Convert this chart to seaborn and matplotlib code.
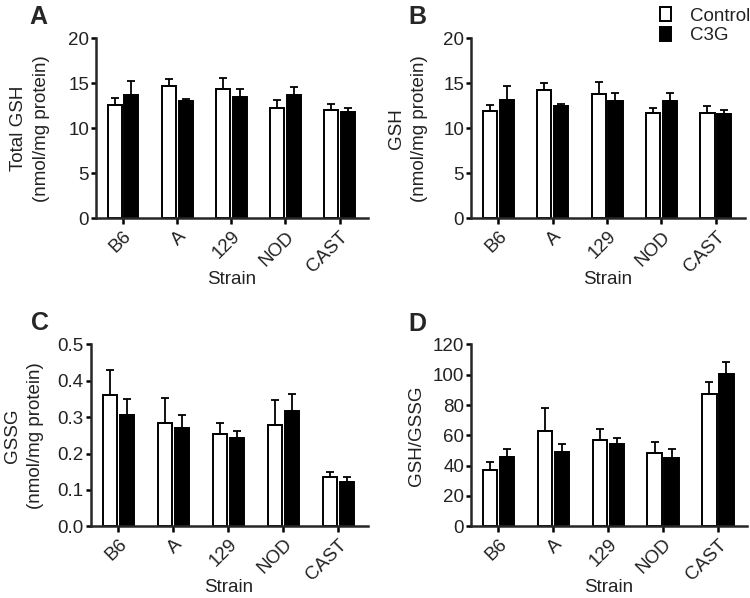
import numpy as np
import pandas as pd
import matplotlib
matplotlib.use('Agg')
import matplotlib.pyplot as plt
import seaborn as sns

sns.set_style('ticks')
plt.rcParams['font.family'] = ['Liberation Sans', 'DejaVu Sans']

strains = ['B6', 'A', '129', 'NOD', 'CAST']
groups = ['Control', 'C3G']

# panel A: total GSH (nmol/mg protein), mean and SEM
total_ctrl = [12.6, 14.7, 14.4, 12.25, 12.0]
total_ctrl_err = [0.8, 0.8, 1.2, 0.85, 0.7]
total_c3g = [13.7, 13.0, 13.5, 13.65, 11.8]
total_c3g_err = [1.6, 0.3, 0.9, 0.95, 0.5]

# panel B: GSH
gsh_ctrl = [11.9, 14.2, 13.8, 11.7, 11.7]
gsh_ctrl_err = [0.7, 0.85, 1.3, 0.6, 0.8]
gsh_c3g = [13.1, 12.45, 13.0, 13.0, 11.6]
gsh_c3g_err = [1.55, 0.25, 0.95, 0.9, 0.45]

# panel C: GSSG
gssg_ctrl = [0.360, 0.284, 0.254, 0.278, 0.136]
gssg_ctrl_err = [0.071, 0.069, 0.029, 0.070, 0.014]
gssg_c3g = [0.305, 0.271, 0.244, 0.317, 0.121]
gssg_c3g_err = [0.046, 0.034, 0.018, 0.046, 0.014]

# panel D: GSH/GSSG ratio
ratio_ctrl = [37.0, 62.8, 56.8, 48.5, 87.0]
ratio_ctrl_err = [5.5, 15.4, 7.1, 7.0, 7.9]
ratio_c3g = [45.4, 48.7, 54.2, 44.9, 100.7]
ratio_c3g_err = [5.6, 5.3, 3.9, 6.0, 7.9]

panels = [
    ('A', 'Total GSH\n(nmol/mg protein)', total_ctrl, total_ctrl_err, total_c3g, total_c3g_err,
     (0, 20), [0, 5, 10, 15, 20], None),
    ('B', 'GSH\n(nmol/mg protein)', gsh_ctrl, gsh_ctrl_err, gsh_c3g, gsh_c3g_err,
     (0, 20), [0, 5, 10, 15, 20], None),
    ('C', 'GSSG\n(nmol/mg protein)', gssg_ctrl, gssg_ctrl_err, gssg_c3g, gssg_c3g_err,
     (0, 0.5), [0.0, 0.1, 0.2, 0.3, 0.4, 0.5], '{:.1f}'),
    ('D', 'GSH/GSSG', ratio_ctrl, ratio_ctrl_err, ratio_c3g, ratio_c3g_err,
     (0, 120), [0, 20, 40, 60, 80, 100, 120], None),
]

rects = [
    [0.128, 0.635, 0.363, 0.301],
    [0.628, 0.635, 0.365, 0.301],
    [0.121, 0.120, 0.369, 0.304],
    [0.628, 0.120, 0.368, 0.304],
]
letter_pos = [(0.051, 0.992), (0.557, 0.992), (0.053, 0.480), (0.557, 0.478)]
ylabel_x = [-0.17, -0.157, -0.17, -0.167]

fig = plt.figure(figsize=(7.5, 5.98), dpi=100)

for i, (letter, ylabel, c, ce, t, te, ylim, yticks, fmt) in enumerate(panels):
    ax = fig.add_axes(rects[i])
    df = pd.DataFrame({
        'Strain': strains * 2,
        'Group': ['Control'] * 5 + ['C3G'] * 5,
        'value': c + t,
    })
    sns.barplot(data=df, x='Strain', y='value', hue='Group', order=strains,
                hue_order=groups, palette=['white', 'black'], edgecolor='black',
                linewidth=1.4, width=0.62, gap=0.16, errorbar=None,
                legend=(letter == 'B'), ax=ax)

    # upward-only SEM bars on each bar centre
    bars = [p for p in ax.patches if p.get_height() > 0][:10]
    xs = [b.get_x() + b.get_width() / 2 for b in bars]
    ys = [b.get_height() for b in bars]
    errs = list(ce) + list(te)
    ax.errorbar(xs, ys, yerr=[np.zeros(len(errs)), errs], fmt='none',
                ecolor='black', elinewidth=1.3, capsize=3, capthick=1.3, zorder=1)

    ax.set_ylim(*ylim)
    ax.set_yticks(yticks)
    if fmt:
        ax.set_yticklabels([fmt.format(v) for v in yticks])
    ax.set_xlim(-0.5, 4.53)
    ax.set_xticks(range(len(strains)))
    ax.set_xticklabels(strains, rotation=45, ha='right', rotation_mode='anchor')
    ax.tick_params(axis='both', labelsize=13.5, width=1.8, color='black',
                   labelcolor='#222222')
    ax.tick_params(axis='y', length=3.5, pad=1.5)
    ax.tick_params(axis='x', length=4, pad=3)
    ax.set_xlabel('Strain', fontsize=13.5, color='#222222', labelpad=-3)
    ax.set_ylabel(ylabel, fontsize=13.5, color='#222222', linespacing=1.45)
    ax.yaxis.set_label_coords(ylabel_x[i], 0.5)
    for s in ['left', 'bottom']:
        ax.spines[s].set_linewidth(1.8)
    sns.despine(ax=ax)

    fig.text(letter_pos[i][0], letter_pos[i][1], letter, fontsize=18,
             fontweight='bold', va='top', ha='center')

    if letter == 'B':
        ax.legend(loc='upper left', bbox_to_anchor=(0.655, 1.225), frameon=False,
                  fontsize=13.5, handlelength=0.6, handleheight=0.75,
                  handletextpad=1.0, labelspacing=0.12, borderpad=0,
                  labelcolor='#222222')

fig.savefig('out.png', dpi=100)
